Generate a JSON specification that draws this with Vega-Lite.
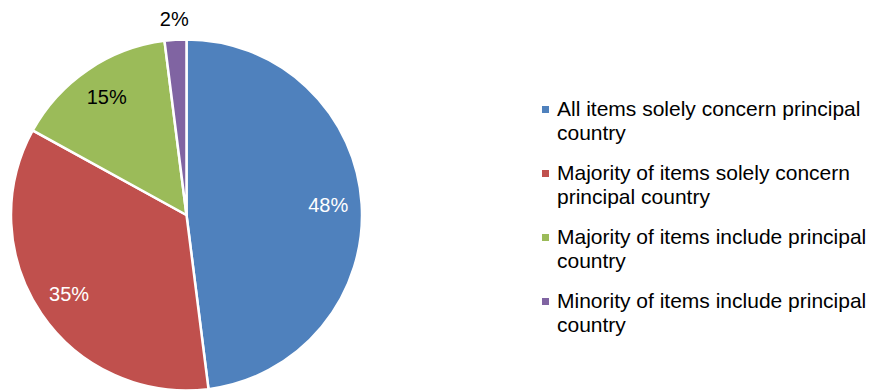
{
  "$schema": "https://vega.github.io/schema/vega-lite/v6.json",
  "autosize": "none",
  "width": 373,
  "height": 352,
  "padding": {"left": 0, "top": 39, "right": 499, "bottom": 0},
  "background": "white",
  "config": {
    "view": {"stroke": null},
    "style": {"guide-label": {"lineHeight": 24}}
  },
  "data": {
    "values": [
      {"category": "All items solely concern principal country", "share": 0.48},
      {"category": "Majority of items solely concern principal country", "share": 0.35},
      {"category": "Majority of items include principal country", "share": 0.15},
      {"category": "Minority of items include principal country", "share": 0.02}
    ]
  },
  "encoding": {
    "theta": {"field": "share", "type": "quantitative", "stack": true},
    "order": {"field": "share", "type": "quantitative", "sort": "descending"}
  },
  "layer": [
    {
      "mark": {"type": "arc", "outerRadius": 175.5, "stroke": "white", "strokeWidth": 2.5},
      "encoding": {
        "color": {
          "field": "category",
          "type": "nominal",
          "scale": {
            "domain": [
              "All items solely concern principal country",
              "Majority of items solely concern principal country",
              "Majority of items include principal country",
              "Minority of items include principal country"
            ],
            "range": ["#4F81BD", "#C0504D", "#9BBB59", "#8064A2"]
          },
          "legend": {
            "orient": "none",
            "legendX": 535,
            "legendY": 60,
            "title": null,
            "symbolType": "square",
            "symbolSize": 49,
            "symbolStrokeWidth": 0,
            "labelFont": "Liberation Sans",
            "labelFontSize": 21,
            "labelColor": "black",
            "labelOffset": 1,
            "labelLimit": 400,
            "rowPadding": 18,
            "labelExpr": "datum.label == 'All items solely concern principal country' ? ['All items solely concern principal', 'country'] : datum.label == 'Majority of items solely concern principal country' ? ['Majority of items solely concern', 'principal country'] : datum.label == 'Majority of items include principal country' ? ['Majority of items include principal', 'country'] : ['Minority of items include principal', 'country']",
            "encode": {"labels": {"update": {"dy": {"value": 12}}}}
          }
        }
      }
    },
    {
      "mark": {"type": "text", "radius": 142, "font": "Liberation Sans", "fontSize": 20},
      "encoding": {
        "detail": {"field": "category"},
        "text": {
          "condition": {"test": "datum.share >= 0.1", "field": "share", "type": "quantitative", "format": ".0%"},
          "value": ""
        },
        "color": {"condition": {"test": "datum.share >= 0.3", "value": "white"}, "value": "black"}
      }
    },
    {
      "mark": {"type": "text", "radius": 195, "font": "Liberation Sans", "fontSize": 20, "color": "black"},
      "encoding": {
        "detail": {"field": "category"},
        "text": {
          "condition": {"test": "datum.share < 0.1", "field": "share", "type": "quantitative", "format": ".0%"},
          "value": ""
        }
      }
    }
  ]
}
